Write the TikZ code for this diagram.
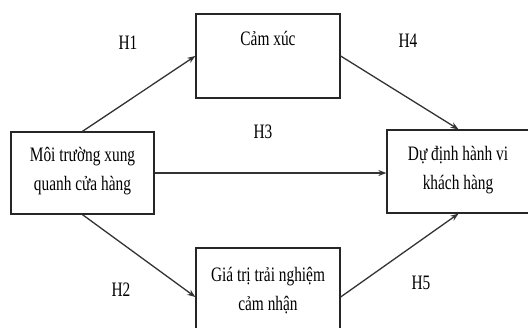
\documentclass[tikz,border=0pt]{standalone}
\usepackage{fontspec}
\setmainfont[FakeStretch=0.75]{Liberation Serif}
\usetikzlibrary{arrows.meta,calc}
\begin{document}
\begin{tikzpicture}[x=1pt,y=-1pt,
  box/.style={draw=black!85,line width=1.3pt,rectangle,inner sep=0pt},
  txt/.style={font=\fontsize{20.5}{29}\selectfont,align=center,inner sep=0pt,text=black},
  conn/.style={draw=black!80,line width=1.3pt,-{Stealth[length=8pt,width=6pt]}}]
\useasboundingbox (0,0) rectangle (528,327);
\clip (0,0) rectangle (528,327);
\node[box,minimum width=143pt,minimum height=82pt] (moi) at (82.5,173) {};
\node[box,minimum width=144pt,minimum height=84pt] (cam) at (268,56) {};
\node[box,minimum width=143pt,minimum height=83pt] (du) at (458.5,171.5) {};
\node[box,minimum width=144pt,minimum height=98pt] (gia) at (268,297) {};
\node[txt] (tmoi) at (82.5,171) {Môi trường xung\\quanh cửa hàng};
\node[txt,anchor=base] (tcam) at (268,45) {Cảm xúc};
\node[txt] (tdu) at (458,170) {Dự định hành vi\\khách hàng};
\node[txt,anchor=base] (tgia) at (268,310) {Giá trị trải nghiệm\\cảm nhận};
\node[txt] (h1) at (128,43) {H1};
\node[txt] (h2) at (121,290) {H2};
\node[txt] (h3) at (263,132) {H3};
\node[txt] (h4) at (408,41) {H4};
\node[txt] (h5) at (421,283) {H5};
\draw[conn] (moi.north) -- (cam.west);
\draw[conn] (moi.south) -- (gia.west);
\draw[conn] (moi.east) -- (moi.east -| du.west);
\draw[conn] (cam.east) -- (du.north);
\draw[conn] (gia.east) -- (du.south);
\end{tikzpicture}
\end{document}
